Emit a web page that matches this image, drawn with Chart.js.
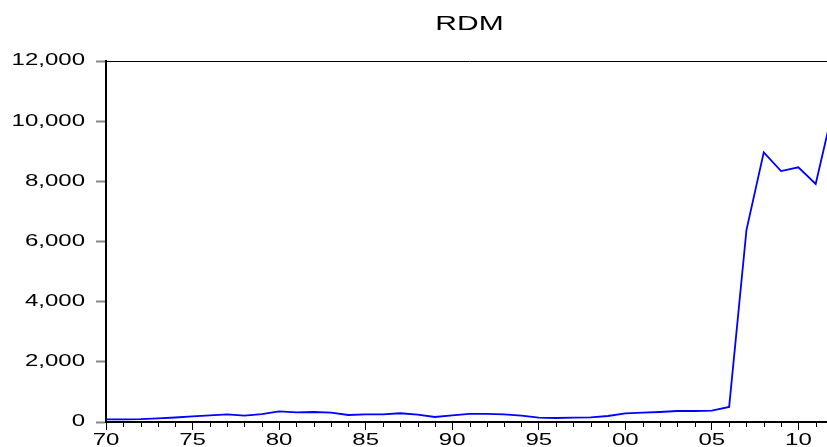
<!DOCTYPE html>
<html>
<head>
<meta charset="utf-8">
<script src="https://cdn.jsdelivr.net/npm/chart.js@4.4.1/dist/chart.umd.min.js"></script>
<style>
    body { margin: 0; background: #fff; overflow: hidden; }
    #wrap { width: 827px; height: 447px; overflow: hidden; }
</style>
</head>
<body>
<div id="wrap"><canvas id="myChart" width="840" height="447"></canvas></div>
<script>
// RDM, yearly 1970-2012
var years = [];
for (var y = 1970; y <= 2012; y++) years.push(y);

var rdm = [
    90, 85, 95, 120, 150, 190, 220, 255, 210, 260,
    355, 320, 333, 310, 233, 256, 256, 290, 244, 167,
    222, 267, 267, 256, 211, 145, 133, 145, 155, 200,
    290, 312, 333, 366, 366, 377, 500, 6380, 8966, 8343,
    8466, 7911, 10400
];

var yTicks = [0, 2000, 4000, 6000, 8000, 10000, 12000];

var points = years.map(function (yr, i) { return { x: yr, y: rdm[i] }; });

// the original graph's text is stretched sideways, so widen every label
var canvas = document.getElementById('myChart');
var c2d = canvas.getContext('2d');
var fill = c2d.fillText;
c2d.fillText = function (t, x, y) {
    this.save();
    this.translate(x, y);
    this.scale(1.5, 1);
    fill.call(this, t, 0, 0);
    this.restore();
};

// every-year minor ticks on the x axis + top frame line
var framePlugin = {
    id: 'frame',
    afterDraw: function (chart) {
        var ctx = chart.ctx;
        var a = chart.chartArea;
        var xs = chart.scales.x;
        ctx.save();
        ctx.strokeStyle = '#000';
        ctx.lineWidth = 1;
        ctx.beginPath();
        ctx.moveTo(a.left, a.top + 0.5);
        ctx.lineTo(a.right, a.top + 0.5);
        ctx.stroke();
        ctx.beginPath();
        years.forEach(function (yr) {
            if (yr % 5 === 0) return;
            var px = Math.round(xs.getPixelForValue(yr)) + 0.5;
            ctx.moveTo(px, a.bottom);
            ctx.lineTo(px, a.bottom + 5);
        });
        ctx.stroke();
        ctx.restore();
    }
};

var myChart = new Chart(canvas, {
    type: 'line',
    data: {
        datasets: [{
            label: 'RDM',
            data: points,
            borderColor: '#0000ff',
            borderWidth: 1.8,
            pointRadius: 0,
            tension: 0,
            fill: false
        }]
    },
    options: {
        responsive: false,
        animation: false,
        layout: { padding: { left: 0, right: 7, top: 0, bottom: 0 } },
        plugins: {
            legend: { display: false },
            tooltip: { enabled: false },
            title: {
                display: true,
                text: 'RDM',
                fullSize: false,
                color: '#000',
                font: { family: 'Liberation Sans, Arial, sans-serif', size: 20, weight: 'normal' },
                padding: { top: 12, bottom: 25 }
            }
        },
        scales: {
            x: {
                type: 'linear',
                min: 1970,
                max: 2012,
                afterFit: function (s) { s.height = 25; },
                afterBuildTicks: function (s) {
                    s.ticks = years.filter(function (yr) { return yr % 5 === 0; })
                        .map(function (yr) { return { value: yr }; });
                },
                grid: {
                    display: true,
                    drawOnChartArea: false,
                    drawTicks: true,
                    tickLength: 8,
                    tickColor: '#000',
                    tickWidth: 1
                },
                border: { display: true, color: '#000', width: 2 },
                ticks: {
                    color: '#000',
                    padding: 1,
                    maxRotation: 0,
                    autoSkip: false,
                    font: { family: 'Liberation Sans, Arial, sans-serif', size: 16 },
                    callback: function (v) { return String(v % 100).padStart(2, '0'); }
                }
            },
            y: {
                min: 0,
                max: 12000,
                afterFit: function (s) { s.width = 106; },
                afterBuildTicks: function (s) {
                    s.ticks = yTicks.map(function (v) { return { value: v }; });
                },
                grid: {
                    display: true,
                    drawOnChartArea: false,
                    drawTicks: true,
                    tickLength: 10,
                    tickColor: '#888',
                    tickWidth: 2
                },
                border: { display: true, color: '#000', width: 2 },
                ticks: {
                    color: '#000',
                    padding: 11,
                    font: { family: 'Liberation Sans, Arial, sans-serif', size: 16 },
                    callback: function (v) { return v.toLocaleString('en-US'); }
                }
            }
        }
    },
    plugins: [framePlugin]
});
</script>
</body>
</html>
